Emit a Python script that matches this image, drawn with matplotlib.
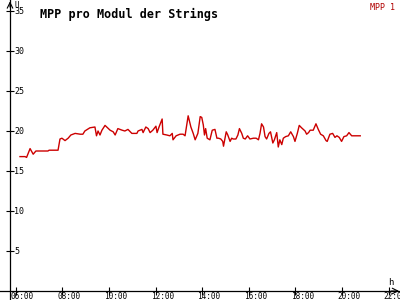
import matplotlib
matplotlib.use("Agg")
import matplotlib.pyplot as plt

# MPP per module
times = [
    "06:11", "06:24", "06:28", "06:37", "06:45", "06:52", "07:23", "07:26", "07:49", "07:54",
    "07:59", "08:07", "08:15", "08:22", "08:33", "08:46", "08:53", "08:58", "09:11", "09:24",
    "09:28", "09:32", "09:37", "09:42", "09:50", "10:03", "10:11", "10:16", "10:23", "10:34",
    "10:41", "10:49", "10:59", "11:12", "11:15", "11:25", "11:28", "11:35", "11:41", "11:46",
    "11:53", "12:01", "12:04", "12:09", "12:17", "12:19", "12:29", "12:37", "12:43", "12:45",
    "12:53", "13:03", "13:11", "13:16", "13:24", "13:31", "13:37", "13:42", "13:49", "13:55",
    "13:59", "14:03", "14:06", "14:09", "14:13", "14:20", "14:26", "14:33", "14:38", "14:42",
    "14:48", "14:53", "14:55", "15:02", "15:06", "15:12", "15:16", "15:20", "15:27", "15:32",
    "15:36", "15:42", "15:46", "15:51", "15:57", "16:03", "16:12", "16:19", "16:25", "16:29",
    "16:33", "16:38", "16:42", "16:46", "16:52", "16:56", "17:02", "17:06", "17:12", "17:16",
    "17:20", "17:25", "17:29", "17:35", "17:42", "17:48", "17:55", "17:59", "18:05", "18:10",
    "18:16", "18:25", "18:29", "18:34", "18:38", "18:46", "18:53", "18:59", "19:05", "19:12",
    "19:19", "19:22", "19:29", "19:36", "19:42", "19:47", "19:53", "19:59", "20:05", "20:12",
    "20:18", "20:25", "20:47",
]
mpp = [
    16.8, 16.8, 16.7, 17.8, 17.1, 17.5, 17.5, 17.6, 17.6, 19.0,
    19.1, 18.8, 19.1, 19.5, 19.7, 19.6, 19.6, 20.0, 20.4, 20.5,
    19.4, 20.0, 19.5, 20.1, 20.7, 20.1, 19.9, 19.5, 20.3, 20.1,
    20.0, 20.2, 19.7, 19.7, 20.0, 20.2, 19.8, 20.5, 20.3, 19.8,
    20.1, 20.6, 19.8, 20.5, 21.5, 19.6, 19.5, 19.4, 19.7, 18.9,
    19.4, 19.6, 19.6, 19.4, 21.9, 20.5, 19.7, 18.9, 19.7, 21.8,
    21.7, 20.75, 19.5, 20.3, 19.1, 18.9, 20.1, 20.2, 19.1, 19.1,
    19.0, 18.7, 18.1, 19.9, 19.5, 18.7, 19.1, 19.0, 19.0, 19.5,
    20.3, 19.7, 19.1, 19.0, 19.4, 19.0, 19.1, 19.1, 18.9, 19.7,
    20.9, 20.5, 19.3, 19.0, 19.7, 19.9, 18.5, 18.9, 19.8, 18.0,
    18.9, 18.3, 19.1, 19.3, 19.4, 19.9, 19.3, 18.7, 19.7, 20.7,
    20.4, 20.0, 19.6, 19.8, 20.1, 20.1, 20.9, 20.2, 19.6, 19.4,
    18.8, 18.7, 19.6, 19.7, 19.2, 19.4, 19.2, 18.7, 19.3, 19.4,
    19.8, 19.4, 19.4,
]
x_ticks = [6, 8, 10, 12, 14, 16, 18, 20, 22]
x_tick_labels = ["06:00", "08:00", "10:00", "12:00", "14:00", "16:00", "18:00", "20:00", "22:00"]
y_ticks = [5, 10, 15, 20, 25, 30, 35]

hours = [int(t[:2]) + int(t[3:]) / 60 for t in times]

MONO = "DejaVu Sans Mono"
LINE_RED = "#cc0000"

fig = plt.figure(figsize=(4, 3), dpi=100)
ax = fig.add_axes([0, 0, 1, 1])
ax.set_xlim(5.326, 22.49)
ax.set_ylim(-1.125, 36.375)
x_axis_pos = 5.755

# axis lines through origin-like position
for side in ("top", "right"):
    ax.spines[side].set_visible(False)
ax.spines["left"].set_position(("data", x_axis_pos))
ax.spines["bottom"].set_position(("data", 0))
for side in ("left", "bottom"):
    ax.spines[side].set_linewidth(0.9)
ax.set_xticks(x_ticks)
ax.set_yticks(y_ticks)
ax.tick_params(direction="inout", length=6, width=0.8, labelleft=False, labelbottom=False)

# arrow heads
ax.annotate("", xy=(22.45, 0), xytext=(22.1, 0),
            arrowprops=dict(arrowstyle="->", lw=0.8, color="black", shrinkA=0, shrinkB=0))
ax.annotate("", xy=(x_axis_pos, 36.2), xytext=(x_axis_pos, 35.5),
            arrowprops=dict(arrowstyle="->", lw=0.8, color="black", shrinkA=0, shrinkB=0))

# tick labels
for val in y_ticks:
    ax.annotate(str(val), (x_axis_pos, val), xytext=(3, 0), textcoords="offset points",
                ha="left", va="center", fontsize=6, family=MONO)
for val, lab in zip(x_ticks, x_tick_labels):
    ax.annotate(lab, (val, 0), xytext=(-3.4, -0.6), textcoords="offset points",
                ha="left", va="top", fontsize=5.6, family=MONO)

ax.annotate("U", (x_axis_pos, 36.2), xytext=(3, 0), textcoords="offset points",
            ha="left", va="top", fontsize=5.5, family=MONO)
ax.annotate("h", (22.0, 0), xytext=(0, 3), textcoords="offset points",
            ha="left", va="bottom", fontsize=6.5, family=MONO)

ax.plot(hours, mpp, color=LINE_RED, lw=1.0)

fig.text(0.1, 0.975, "MPP pro Modul der Strings", ha="left", va="top",
         fontsize=8.5, fontweight="bold", family=MONO)
fig.text(0.988, 0.99, "MPP 1", ha="right", va="top", fontsize=6, family=MONO, color="#b00000")

fig.savefig("out.png", dpi=100)
